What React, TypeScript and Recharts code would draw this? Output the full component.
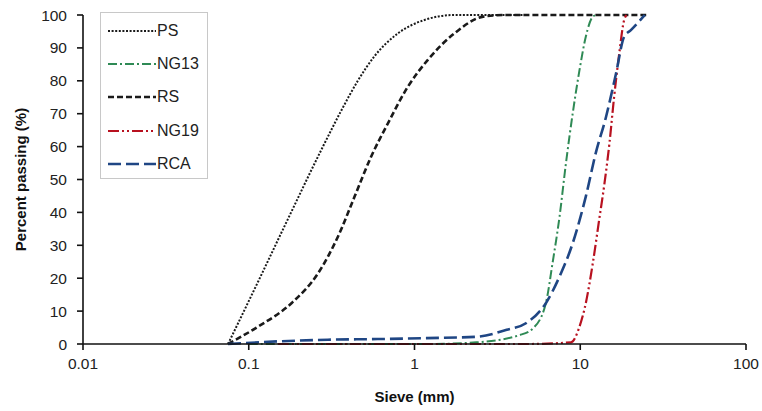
import { LineChart, Line, XAxis, YAxis, Legend } from "recharts";

// sieve sizes (mm) and percent passing, one pair of arrays per material
const psSize = [0.075, 0.114, 0.165, 0.274, 0.362, 0.455, 0.574, 0.794, 1.15, 1.74, 4.75];
const psPass = [0, 19, 36, 59, 71, 80, 87.5, 94.4, 98.5, 100, 100];

const ng13Size = [0.1, 0.3, 1.18, 2.36, 4.3, 5.2, 6.2, 6.8, 7.5, 8.2, 9, 9.9, 10.8, 11.9, 12.5];
const ng13Pass = [0, 0, 0, 0.5, 2.7, 4.8, 12.4, 24.5, 38.7, 55, 70, 83.3, 93.4, 99.5, 100];

const rsSize = [0.075, 0.114, 0.181, 0.262, 0.345, 0.435, 0.548, 0.69, 0.912, 1.2, 1.74, 2.6, 3.5, 25];
const rsPass = [0, 5.3, 12.4, 21.5, 32.6, 44.8, 57, 67, 78.2, 86.3, 94.4, 99.5, 100, 100];

const ng19Size = [0.15, 1.18, 4.75, 8.8, 9.9, 10.8, 11.9, 13, 14, 15, 16, 17.2, 18.4, 19];
const ng19Pass = [0, 0, 0, 0.5, 5.3, 12.4, 24.5, 37.7, 48.8, 61, 75, 88.4, 98.5, 100];

const rcaSize = [0.075, 0.15, 0.3, 0.6, 1.18, 2.36, 3.6, 4.7, 6.2, 7.5, 9, 10.8, 12.4, 14.3, 16.4, 18.4, 20.2, 24.5];
const rcaPass = [0, 0.8, 1.3, 1.5, 1.8, 2.2, 4.3, 6.3, 12.4, 20.5, 30.6, 44.8, 58, 69, 82, 93.4, 95.4, 100];

const xTicks = [0.01, 0.1, 1, 10, 100];
const yTicks = [0, 10, 20, 30, 40, 50, 60, 70, 80, 90, 100];

const toRows = (sizes: number[], pass: number[]) => sizes.map((s, i) => ({ s, p: pass[i] }));

const series = [
  { name: "PS", rows: toRows(psSize, psPass), color: "#1a1a1a", dash: "2 1.6", width: 2 },
  { name: "NG13", rows: toRows(ng13Size, ng13Pass), color: "#2f8a55", dash: "9 3 2 3", width: 2 },
  { name: "RS", rows: toRows(rsSize, rsPass), color: "#1a1a1a", dash: "6 3", width: 2.6 },
  { name: "NG19", rows: toRows(ng19Size, ng19Pass), color: "#b8111f", dash: "11 3 2 3 2 3", width: 2.2 },
  { name: "RCA", rows: toRows(rcaSize, rcaPass), color: "#1f4684", dash: "13 5", width: 2.6 },
];

const font = "'Liberation Sans', Arial, sans-serif";

const LegendBox = () => (
  <div
    style={{
      width: 108,
      height: 167,
      border: "1px solid #c8c8c8",
      background: "#fff",
      boxSizing: "border-box",
      fontFamily: font,
      fontSize: 16,
      color: "#222",
      paddingTop: 1,
    }}
  >
    {series.map((s) => (
      <div key={s.name} style={{ display: "flex", alignItems: "center", height: 33.4 }}>
        <svg width={50} height={10} style={{ marginLeft: 6 }}>
          <line x1={1} y1={5} x2={49} y2={5} stroke={s.color} strokeWidth={s.width} strokeDasharray={s.dash} />
        </svg>
        <span style={{ marginLeft: 0 }}>{s.name}</span>
      </div>
    ))}
  </div>
);

export default function App() {
  return (
    <div style={{ position: "absolute", left: 0, top: 0, width: 762, height: 411, background: "#fff" }}>
      <LineChart width={762} height={411} margin={{ top: 15, right: 16, left: 8, bottom: 7 }}>
        <XAxis
          type="number"
          dataKey="s"
          scale="log"
          domain={[0.01, 100]}
          ticks={xTicks}
          allowDataOverflow
          height={60}
          tickSize={6}
          tickMargin={8}
          tickFormatter={(v: number) => String(v)}
          axisLine={{ stroke: "#111", strokeWidth: 1.6 }}
          tickLine={{ stroke: "#111", strokeWidth: 1.6 }}
          tick={{ fill: "#222", fontSize: 15.5, fontFamily: font }}
          label={{
            value: "Sieve (mm)",
            position: "insideBottom",
            offset: 2,
            style: { fill: "#111", fontSize: 15, fontWeight: "bold", fontFamily: font },
          }}
        />
        <YAxis
          type="number"
          domain={[0, 100]}
          ticks={yTicks}
          width={75}
          tickSize={6}
          tickMargin={10}
          axisLine={{ stroke: "#111", strokeWidth: 1.6 }}
          tickLine={{ stroke: "#111", strokeWidth: 1.6 }}
          tick={{ fill: "#222", fontSize: 15.5, fontFamily: font }}
          label={{
            value: "Percent passing  (%)",
            angle: -90,
            position: "insideLeft",
            offset: 13,
            style: { fill: "#111", fontSize: 15, fontWeight: "bold", fontFamily: font, textAnchor: "middle" },
          }}
        />
        <Legend
          layout="vertical"
          verticalAlign="middle"
          align="center"
          wrapperStyle={{ left: 100, top: 12, width: 108 }}
          content={() => <LegendBox />}
        />
        {series.map((s) => (
          <Line
            key={s.name}
            data={s.rows}
            dataKey="p"
            name={s.name}
            type="monotone"
            stroke={s.color}
            strokeWidth={s.width}
            strokeDasharray={s.dash}
            dot={false}
            activeDot={false}
            isAnimationActive={false}
          />
        ))}
      </LineChart>
    </div>
  );
}
